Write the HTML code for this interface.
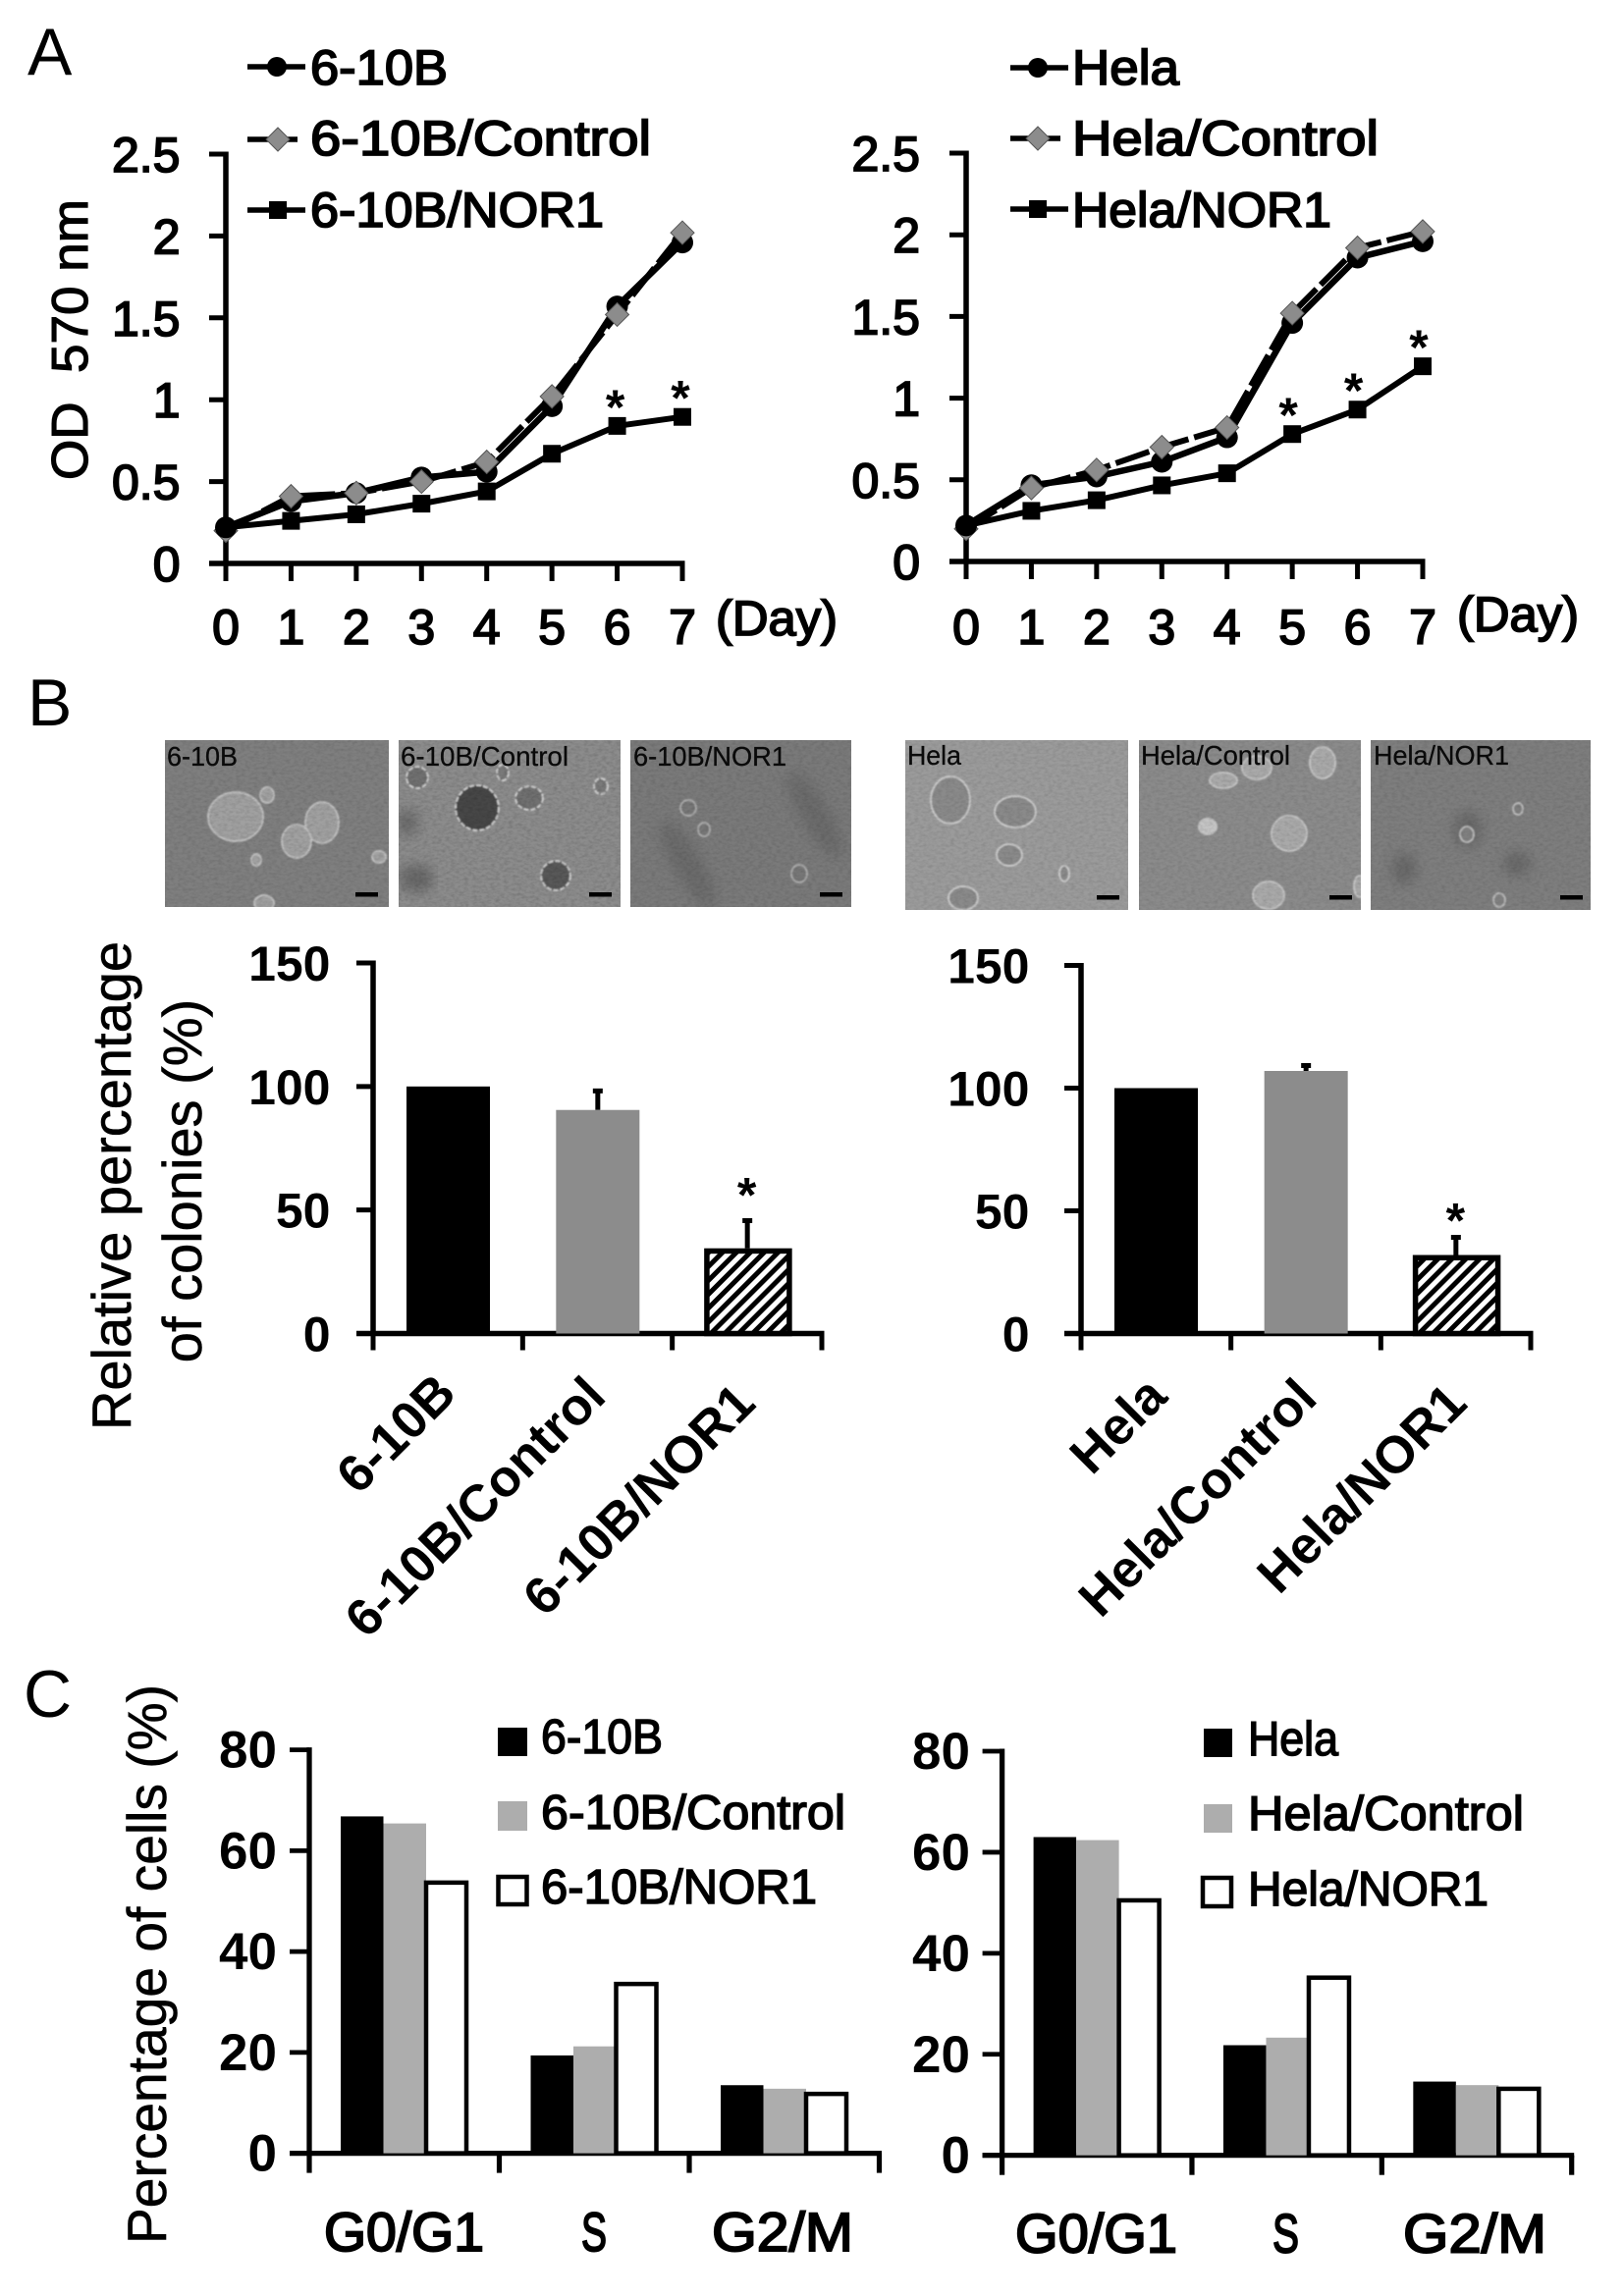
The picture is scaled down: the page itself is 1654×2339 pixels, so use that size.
<!DOCTYPE html>
<html lang="en">
<head>
<meta charset="utf-8">
<title>Cell proliferation, colony formation and cell cycle figure</title>
<style>
html,body{margin:0;padding:0;background:#fff;}
svg{display:block;position:absolute;left:0;top:0;}
text{font-family:"Liberation Sans",Arial,sans-serif;fill:#000;}
.tick{font-size:50px;stroke:#000;stroke-width:1.8;}
.boldtick{font-size:50px;font-weight:700;}
.cyctick{font-size:53px;font-weight:700;}
.title{font-size:56px;stroke:#000;stroke-width:.6;}
.panel{font-size:68px;}
.ptxt{font-size:28px;fill:#0a0a0a;stroke:#0a0a0a;stroke-width:.3;}
.cat{font-size:53px;font-weight:700;}
.phase{font-size:56px;stroke:#000;stroke-width:2;}
.ctxt{font-size:49px;stroke:#000;stroke-width:1.5;}
</style>
</head>
<body>
<svg id="fig" xmlns="http://www.w3.org/2000/svg" width="1654" height="2339" viewBox="0 0 1654 2339">
<defs>
<pattern id="hatch" width="10" height="10" patternUnits="userSpaceOnUse" patternTransform="rotate(45)">
<rect width="10" height="10" fill="#fff"/>
<rect x="0" width="5" height="10" fill="#000"/>
</pattern>
<filter id="grain" x="0" y="0" width="100%" height="100%">
<feTurbulence type="fractalNoise" baseFrequency="0.22 0.38" numOctaves="2" seed="4"/>
<feColorMatrix type="matrix" values="0 0 0 0 0  0 0 0 0 0  0 0 0 0 0  0.9 0.9 0 0 -0.72"/>
</filter>
<filter id="soft"><feGaussianBlur stdDeviation="0.8"/></filter>
<filter id="softer"><feGaussianBlur stdDeviation="7"/></filter>
<clipPath id="cp1"><rect x="168" y="754" width="228" height="170"/></clipPath>
<clipPath id="cp2"><rect x="406" y="754" width="226" height="170"/></clipPath>
<clipPath id="cp3"><rect x="642" y="754" width="225" height="170"/></clipPath>
<clipPath id="cp4"><rect x="922" y="754" width="227" height="173"/></clipPath>
<clipPath id="cp5"><rect x="1160" y="754" width="226" height="173"/></clipPath>
<clipPath id="cp6"><rect x="1396" y="754" width="224" height="173"/></clipPath>
</defs>

<text class="panel" x="28" y="76">A</text>
<text class="panel" x="28" y="739">B</text>
<text class="panel" x="24" y="1749">C</text>

<!-- Panel A legends -->
<g>
<g>
<line x1="252" y1="68" x2="311" y2="68" stroke="#000" stroke-width="5.5"/>
<circle cx="282" cy="68" r="10" fill="#000"/>
<text class="tick" x="316" y="86" textLength="140" lengthAdjust="spacingAndGlyphs">6-10B</text>
</g>
<g>
<line x1="252" y1="142" x2="303" y2="142" stroke="#000" stroke-width="5.5"/>
<polygon points="283,130 295,142 283,154 271,142" fill="#8c8c8c" stroke="#555" stroke-width="1"/>
<text class="tick" x="316" y="158" textLength="347" lengthAdjust="spacingAndGlyphs">6-10B/Control</text>
</g>
<g>
<line x1="252" y1="214" x2="311" y2="214" stroke="#000" stroke-width="5.5"/>
<rect x="274" y="205" width="18" height="18" fill="#000"/>
<text class="tick" x="316" y="231" textLength="299" lengthAdjust="spacingAndGlyphs">6-10B/NOR1</text>
</g>
</g>
<g>
<g>
<line x1="1029" y1="69" x2="1088" y2="69" stroke="#000" stroke-width="5.5"/>
<circle cx="1057" cy="69" r="10" fill="#000"/>
<text class="tick" x="1092" y="86" textLength="109" lengthAdjust="spacingAndGlyphs">Hela</text>
</g>
<g>
<line x1="1029" y1="141" x2="1080" y2="141" stroke="#000" stroke-width="5.5"/>
<polygon points="1057,129 1069,141 1057,153 1045,141" fill="#8c8c8c" stroke="#555" stroke-width="1"/>
<text class="tick" x="1092" y="158" textLength="312" lengthAdjust="spacingAndGlyphs">Hela/Control</text>
</g>
<g>
<line x1="1029" y1="213" x2="1088" y2="213" stroke="#000" stroke-width="5.5"/>
<rect x="1048" y="204" width="18" height="18" fill="#000"/>
<text class="tick" x="1092" y="231" textLength="264" lengthAdjust="spacingAndGlyphs">Hela/NOR1</text>
</g>
</g>

<text class="title" transform="translate(89,346) rotate(-90)" text-anchor="middle" style="font-size:52px;stroke-width:1.2" textLength="286" lengthAdjust="spacingAndGlyphs">OD&#160;&#160;570 nm</text>
<text class="tick" x="729" y="647" textLength="124" lengthAdjust="spacingAndGlyphs">(Day)</text>
<text class="tick" x="1484" y="643" textLength="124" lengthAdjust="spacingAndGlyphs">(Day)</text>

<!-- Panel B micrographs -->
<g clip-path="url(#cp1)">
<rect x="168" y="754" width="228" height="170" fill="#7f7f7f"/>
<g filter="url(#soft)" fill="#a0a0a0" stroke="#bdbdbd" stroke-width="2">
<ellipse cx="240" cy="832" rx="28" ry="25"/>
<ellipse cx="272" cy="810" rx="7" ry="8"/>
<ellipse cx="328" cy="838" rx="17" ry="21"/>
<ellipse cx="302" cy="857" rx="15" ry="17"/>
<ellipse cx="261" cy="876" rx="5" ry="6"/>
<ellipse cx="386" cy="873" rx="7" ry="6"/>
<ellipse cx="269" cy="920" rx="10" ry="8"/>
</g>
<rect x="168" y="754" width="228" height="170" filter="url(#grain)" opacity=".16"/>
</g>
<g clip-path="url(#cp2)">
<rect x="406" y="754" width="226" height="170" fill="#8c8c8c"/>
<g filter="url(#softer)" fill="#666">
<ellipse cx="415" cy="838" rx="10" ry="14"/>
<ellipse cx="424" cy="895" rx="18" ry="14"/>
</g>
<g filter="url(#soft)" stroke="#cfcfcf" stroke-width="2" stroke-dasharray="5 2">
<ellipse cx="486" cy="823" rx="22" ry="23" fill="#474747"/>
<ellipse cx="539" cy="813" rx="14" ry="12" fill="#6f6f6f"/>
<ellipse cx="566" cy="892" rx="15" ry="15" fill="#585858"/>
<ellipse cx="425" cy="792" rx="11" ry="11" fill="#707070"/>
<ellipse cx="512" cy="787" rx="6" ry="8" fill="#7a7a7a"/>
<ellipse cx="612" cy="801" rx="7" ry="8" fill="#7a7a7a"/>
</g>
<rect x="406" y="754" width="226" height="170" filter="url(#grain)" opacity=".2"/>
</g>
<g clip-path="url(#cp3)">
<rect x="642" y="754" width="225" height="170" fill="#7a7a7a"/>
<g filter="url(#softer)" fill="#6a6a6a">
<ellipse cx="830" cy="830" rx="14" ry="50" transform="rotate(-30 830 830)"/>
<ellipse cx="700" cy="880" rx="14" ry="50" transform="rotate(-30 700 880)"/>
</g>
<g filter="url(#soft)" fill="#777" stroke="#aaa" stroke-width="2">
<ellipse cx="701" cy="823" rx="8" ry="8"/>
<ellipse cx="717" cy="845" rx="6" ry="7"/>
<ellipse cx="814" cy="890" rx="8" ry="9"/>
</g>
<rect x="642" y="754" width="225" height="170" filter="url(#grain)" opacity=".16"/>
</g>
<g clip-path="url(#cp4)">
<rect x="922" y="754" width="227" height="173" fill="#9b9b9b"/>
<g filter="url(#soft)" fill="#8a8a8a" stroke="#c9c9c9" stroke-width="2">
<ellipse cx="968" cy="815" rx="20" ry="24"/>
<ellipse cx="1034" cy="827" rx="21" ry="16"/>
<ellipse cx="1028" cy="871" rx="13" ry="11"/>
<ellipse cx="1084" cy="890" rx="5" ry="8"/>
<ellipse cx="981" cy="915" rx="15" ry="12"/>
</g>
<rect x="922" y="754" width="227" height="173" filter="url(#grain)" opacity=".15"/>
</g>
<g clip-path="url(#cp5)">
<rect x="1160" y="754" width="226" height="173" fill="#8b8b8b"/>
<g filter="url(#soft)" fill="#a9a9a9" stroke="#c2c2c2" stroke-width="2">
<ellipse cx="1280" cy="782" rx="15" ry="12"/>
<ellipse cx="1347" cy="777" rx="13" ry="16"/>
<ellipse cx="1246" cy="795" rx="14" ry="8"/>
<ellipse cx="1230" cy="842" rx="9" ry="8" fill="#c4c4c4"/>
<ellipse cx="1313" cy="849" rx="18" ry="18"/>
<ellipse cx="1292" cy="912" rx="16" ry="14"/>
<ellipse cx="1385" cy="903" rx="6" ry="11"/>
</g>
<rect x="1160" y="754" width="226" height="173" filter="url(#grain)" opacity=".15"/>
</g>
<g clip-path="url(#cp6)">
<rect x="1396" y="754" width="224" height="173" fill="#7e7e7e"/>
<g filter="url(#softer)" fill="#666">
<ellipse cx="1495" cy="845" rx="14" ry="18"/>
<ellipse cx="1430" cy="885" rx="12" ry="16"/>
<ellipse cx="1545" cy="880" rx="14" ry="12"/>
</g>
<g filter="url(#soft)" fill="#808080" stroke="#b8b8b8" stroke-width="2">
<ellipse cx="1494" cy="850" rx="7" ry="8"/>
<ellipse cx="1546" cy="824" rx="5" ry="6"/>
<ellipse cx="1527" cy="917" rx="6" ry="7"/>
</g>
<rect x="1396" y="754" width="224" height="173" filter="url(#grain)" opacity=".15"/>
</g>
<text class="ptxt" x="170" y="780" textLength="72" lengthAdjust="spacingAndGlyphs">6-10B</text>
<text class="ptxt" x="408" y="780" textLength="171" lengthAdjust="spacingAndGlyphs">6-10B/Control</text>
<text class="ptxt" x="645" y="780" textLength="156" lengthAdjust="spacingAndGlyphs">6-10B/NOR1</text>
<text class="ptxt" x="924" y="779" textLength="55" lengthAdjust="spacingAndGlyphs">Hela</text>
<text class="ptxt" x="1162" y="779" textLength="152" lengthAdjust="spacingAndGlyphs">Hela/Control</text>
<text class="ptxt" x="1399" y="779" textLength="138" lengthAdjust="spacingAndGlyphs">Hela/NOR1</text>
<g fill="#000">
<rect x="362" y="909" width="23" height="4.5"/>
<rect x="600" y="909" width="23" height="4.5"/>
<rect x="835" y="909" width="23" height="4.5"/>
<rect x="1117" y="912" width="23" height="4.5"/>
<rect x="1354" y="912" width="23" height="4.5"/>
<rect x="1589" y="912" width="23" height="4.5"/>
</g>

<text class="title" transform="translate(133,1208) rotate(-90)" text-anchor="middle">Relative percentage</text>
<text class="title" transform="translate(205,1203) rotate(-90)" text-anchor="middle">of colonies (%)</text>

<!-- Panel C -->
<text class="title" transform="translate(169,2001) rotate(-90)" text-anchor="middle" textLength="570" lengthAdjust="spacingAndGlyphs">Percentage of cells (%)</text>
<g>
<rect x="507" y="1760" width="30" height="29" fill="#000"/>
<text class="ctxt" x="551" y="1786" textLength="124" lengthAdjust="spacingAndGlyphs">6-10B</text>
<rect x="507" y="1835" width="30" height="30" fill="#adadad"/>
<text class="ctxt" x="551" y="1863" textLength="310" lengthAdjust="spacingAndGlyphs">6-10B/Control</text>
<rect x="507.5" y="1912" width="29" height="28" fill="#fff" stroke="#000" stroke-width="4.5"/>
<text class="ctxt" x="551" y="1939" textLength="281" lengthAdjust="spacingAndGlyphs">6-10B/NOR1</text>
</g>
<g>
<rect x="1226" y="1761" width="29" height="29" fill="#000"/>
<text class="ctxt" x="1271" y="1788" textLength="92" lengthAdjust="spacingAndGlyphs">Hela</text>
<rect x="1226" y="1838" width="29" height="29" fill="#adadad"/>
<text class="ctxt" x="1271" y="1864" textLength="281" lengthAdjust="spacingAndGlyphs">Hela/Control</text>
<rect x="1225" y="1913" width="29" height="29" fill="#fff" stroke="#000" stroke-width="4.5"/>
<text class="ctxt" x="1271" y="1941" textLength="245" lengthAdjust="spacingAndGlyphs">Hela/NOR1</text>
</g>
<g id="charts"></g>
</svg>

<script>
// Panel A data
const days = [0, 1, 2, 3, 4, 5, 6, 7];
const growthTicks = [0, 0.5, 1, 1.5, 2, 2.5];
const growthTickLabels = ['0', '0.5', '1', '1.5', '2', '2.5'];
const a1Parental = [0.22, 0.38, 0.43, 0.525, 0.56, 0.96, 1.57, 1.96];
const a1Control = [0.2, 0.41, 0.43, 0.5, 0.62, 1.02, 1.52, 2.02];
const a1Nor1 = [0.22, 0.26, 0.3, 0.365, 0.44, 0.67, 0.84, 0.895];
const a1StarDays = [6, 7];
const a2Parental = [0.22, 0.467, 0.52, 0.61, 0.76, 1.46, 1.86, 1.96];
const a2Control = [0.2, 0.45, 0.56, 0.7, 0.82, 1.52, 1.92, 2.02];
const a2Nor1 = [0.22, 0.31, 0.375, 0.466, 0.54, 0.78, 0.93, 1.195];
const a2StarDays = [5, 6, 7];

// Panel B data
const colonyTicks = [0, 50, 100, 150];
const b1Categories = ['6-10B', '6-10B/Control', '6-10B/NOR1'];
const b1Values = [100, 90.5, 34.5];
const b1ErrorTops = [100, 99, 46.5];
const b2Categories = ['Hela', 'Hela/Control', 'Hela/NOR1'];
const b2Values = [100, 107, 32];
const b2ErrorTops = [100, 110, 40];

// Panel C data
const cycleTicks = [0, 20, 40, 60, 80];
const cyclePhases = ['G0/G1', 'S', 'G2/M'];
const c1Parental = [66.8, 19.4, 13.5];
const c1Control = [65.4, 21.2, 12.8];
const c1Nor1 = [54.1, 34, 12.2];
const c2Parental = [63, 21.8, 14.6];
const c2Control = [62.4, 23.3, 13.9];
const c2Nor1 = [50.9, 35.6, 13.6];

const NS = 'http://www.w3.org/2000/svg';
const root = document.getElementById('charts');

function linear(d0, d1, r0, r1) {
  return function (v) { return r0 + (v - d0) * (r1 - r0) / (d1 - d0); };
}
function mk(tag, geom, parent) {
  const el = document.createElementNS(NS, tag);
  for (const k in geom) el.setAttribute(k, geom[k]);
  parent.appendChild(el);
  return el;
}
function seg(x1, y1, x2, y2, w, parent, name) {
  const el = mk('line', { x1: x1, y1: y1, x2: x2, y2: y2, stroke: '#000', 'stroke-width': w }, parent);
  
  
  return el;
}
function group(parent, name) {
  const g = mk('g', {}, parent);
  
  
  return g;
}
function label(txt, geom, cls, parent, name) {
  const el = mk('text', geom, parent);
  el.setAttribute('class', cls);
  
  
  el.textContent = txt;
  return el;
}

function yAxis(g, x, y, ticks, labels, tickLen, labelRight, cls, w) {
  seg(x, y(ticks[ticks.length - 1]) - 2.5, x, y(ticks[0]) + 2, w, g, 'y-axis-line');
  ticks.forEach(function (t, i) {
    seg(x - tickLen, y(t), x, y(t), w - 0.5, g, 'y-tick');
    label(labels[i], { x: labelRight, y: y(t) + 18, 'text-anchor': 'end' }, cls, g, 'y-tick-label');
  });
}

function lineChart(name, x, y, parental, control, nor1, starDays, starDy, yRight, labelY) {
  const g = group(root, name);
  yAxis(g, x(0), y, growthTicks, growthTickLabels, 17, yRight, 'tick', 5.5);
  seg(x(0) - 17, y(0), x(7) + 2.5, y(0), 5.5, g, 'x-axis-line');
  days.forEach(function (d) {
    seg(x(d), y(0), x(d), y(0) + 18, 5, g, 'x-tick');
    label(String(d), { x: x(d), y: labelY, 'text-anchor': 'middle' }, 'tick', g, 'x-tick-label');
  });
  const pts = function (arr) { return arr.map(function (v, i) { return x(days[i]) + ',' + y(v); }).join(' '); };

  const ctl0 = mk('polygon', { points: diamond(x(days[0]), y(control[0])), fill: '#8c8c8c', stroke: '#555', 'stroke-width': 1 }, g);
  
  

  const lp = mk('polyline', { points: pts(parental), fill: 'none', stroke: '#000', 'stroke-width': 6.5, 'stroke-linejoin': 'round' }, g);
  
  
  parental.forEach(function (v, i) {
    const c = mk('circle', { cx: x(days[i]), cy: y(v), r: 11, fill: '#000' }, g);
    
    
  });

  const ln = mk('polyline', { points: pts(nor1), fill: 'none', stroke: '#000', 'stroke-width': 6, 'stroke-linejoin': 'round' }, g);
  
  
  nor1.forEach(function (v, i) {
    if (i === 0) return;
    const s = mk('rect', { x: x(days[i]) - 9, y: y(v) - 9, width: 18, height: 18, fill: '#000' }, g);
    
    
  });

  const lc = mk('polyline', { points: pts(control), fill: 'none', stroke: '#000', 'stroke-width': 6, 'stroke-dasharray': '36 6' }, g);
  
  
  control.forEach(function (v, i) {
    if (i === 0) return;
    const p = mk('polygon', { points: diamond(x(days[i]), y(v)), fill: '#8c8c8c', stroke: '#555', 'stroke-width': 1 }, g);
    
    
  });

  starDays.forEach(function (d) {
    label('*', { x: x(d) + starDy[0], y: y(nor1[d]) + starDy[1], 'text-anchor': 'middle' }, 'boldtick', g, 'significance-star');
  });
}
function diamond(cx, cy) {
  const r = 12;
  return cx + ',' + (cy - r) + ' ' + (cx + r) + ',' + cy + ' ' + cx + ',' + (cy + r) + ' ' + (cx - r) + ',' + cy;
}

function colonyChart(name, x, y, cats, vals, errs, yRight, catAnchors, starDy) {
  const g = group(root, name);
  yAxis(g, x(0), y, colonyTicks, colonyTicks.map(String), 17, yRight, 'boldtick', 5.5);
  seg(x(0) - 17, y(0), x(3) + 2.5, y(0), 5.5, g, 'x-axis-line');
  [0, 1, 2, 3].forEach(function (i) {
    seg(x(i), y(0), x(i), y(0) + 17, 5, g, 'x-tick');
  });
  const fills = ['#000', '#8c8c8c', 'url(#hatch)'];
  vals.forEach(function (v, i) {
    const bx = x(i) + 34;
    if (errs[i] > v) {
      seg(bx + 42.5, y(errs[i]), bx + 42.5, y(v), 5, g, 'error-bar');
      seg(bx + 37.5, y(errs[i]) + 2, bx + 47.5, y(errs[i]) + 2, 5, g, 'error-cap');
    }
    const hatched = i === 2;
    const geom = hatched
      ? { x: bx + 1.25, y: y(v) + 2.75, width: 84, height: y(0) - y(v) - 2.75, fill: fills[i], stroke: '#000', 'stroke-width': 5.5 }
      : { x: bx, y: y(v), width: 85, height: y(0) - y(v), fill: fills[i] };
    const b = mk('rect', geom, g);
    
    
  });
  label('*', { x: x(2) + 76, y: y(errs[2]) + starDy, 'text-anchor': 'middle' }, 'boldtick', g, 'significance-star');
  cats.forEach(function (c, i) {
    label(c, { transform: 'translate(' + (x(i) + catAnchors[0]) + ',' + catAnchors[1 + i] + ') rotate(-45)', 'text-anchor': 'end' }, 'cat', g, 'category-label');
  });
}

function cycleChart(name, x, y, parental, control, nor1, yRight, labelY, catSpec) {
  const g = group(root, name);
  yAxis(g, x(0), y, cycleTicks, cycleTicks.map(String), 20, yRight, 'cyctick', 5.3);
  seg(x(0) - 20, y(0), x(3) + 2.5, y(0), 5.2, g, 'x-axis-line');
  [0, 1, 2, 3].forEach(function (i) {
    seg(x(i), y(0), x(i), y(0) + 20, 5.2, g, 'x-tick');
  });
  cyclePhases.forEach(function (ph, i) {
    const bx = x(i) + 32;
    const a = mk('rect', { x: bx, y: y(parental[i]), width: 43.5, height: y(0) - y(parental[i]), fill: '#000' }, g);
    
    
    const b = mk('rect', { x: bx + 43.5, y: y(control[i]), width: 43.5, height: y(0) - y(control[i]), fill: '#adadad' }, g);
    
    
    const cTop = y(nor1[i]) + 2.2;
    const c = mk('rect', { x: bx + 87, y: cTop, width: 41, height: y(0) - cTop, fill: '#fff', stroke: '#000', 'stroke-width': 4.5 }, g);
    
    
    const spec = catSpec[i];
    label(ph, { x: spec[0], y: labelY, textLength: spec[1], lengthAdjust: 'spacingAndGlyphs' }, 'phase', g, 'phase-label');
  });
}

lineChart('growth-chart-6-10b',
  linear(0, 7, 230, 695), linear(0, 2.5, 574, 157),
  a1Parental, a1Control, a1Nor1, a1StarDays, [-2, -2], 183.5, 656);
lineChart('growth-chart-hela',
  linear(0, 7, 984, 1449), linear(0, 2.5, 572, 156),
  a2Parental, a2Control, a2Nor1, a2StarDays, [-4, -2], 937, 656);

colonyChart('colony-chart-6-10b',
  linear(0, 3, 380, 837), linear(0, 150, 1358.5, 981),
  b1Categories, b1Values, b1ErrorTops, 336.5, [87, 1422, 1425, 1432], -7);
colonyChart('colony-chart-hela',
  linear(0, 3, 1101, 1559), linear(0, 150, 1358.5, 983.5),
  b2Categories, b2Values, b2ErrorTops, 1048.5, [90, 1425, 1427, 1432], 2);

cycleChart('cycle-chart-6-10b',
  linear(0, 3, 315, 895.5), linear(0, 80, 2193.6, 1782.6),
  c1Parental, c1Control, c1Nor1, 282, 2293, [[330, 163], [592, 26], [725, 144]]);
cycleChart('cycle-chart-hela',
  linear(0, 3, 1020.6, 1600.7), linear(0, 80, 2195.7, 1784),
  c2Parental, c2Control, c2Nor1, 988, 2294.5, [[1034, 165], [1296, 27], [1429, 146]]);
</script>
</body>
</html>
